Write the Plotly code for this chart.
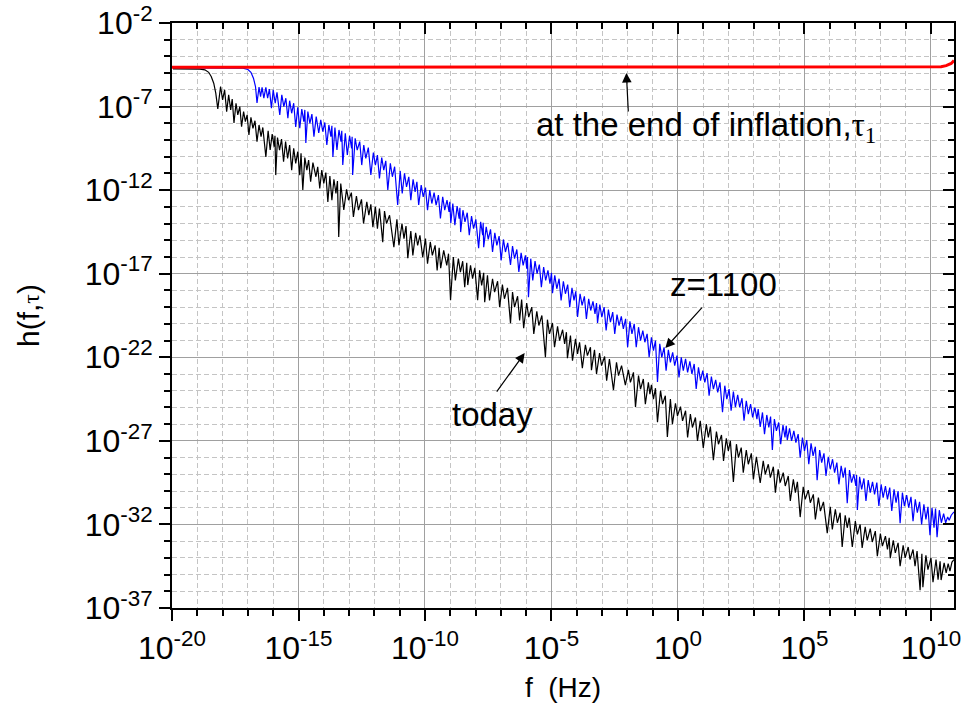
import numpy as np
import plotly.graph_objects as go

# ---------------------------------------------------------------
# Gravitational-wave spectrum h(f, tau) at three epochs.
# Each series is a list of (log10 f [Hz], log10 h) points.
# ---------------------------------------------------------------

# at the end of inflation (flat spectrum)
inflation_pts = [(-20.0, -4.65), (10.0, -4.65), (10.4, -4.62), (10.6, -4.55),
                 (10.8, -4.42), (10.91, -4.25)]

# z = 1100
z1100_pts = [
    (-19.96, -4.69), (-17.6, -4.69), (-17.2, -4.7), (-17.0, -4.78), (-16.88, -4.95),
    (-16.78, -5.3), (-16.7, -5.8), (-16.64, -6.78),
    (-16.56, -5.83), (-16.5, -6.4), (-16.44, -5.85), (-16.37, -6.49), (-16.29, -5.85),
    (-16.22, -6.5), (-16.15, -5.95), (-16.07, -7.1), (-16.0, -6.0), (-15.92, -6.8),
    (-15.85, -6.15), (-15.74, -7.5), (-15.66, -6.3), (-15.58, -7.0), (-15.5, -6.5),
    (-15.42, -7.7), (-15.35, -6.65), (-15.27, -7.4), (-15.19, -6.8), (-15.11, -8.22),
    (-15.03, -7.05), (-14.95, -8.3), (-14.87, -7.15), (-14.79, -7.9), (-14.75, -7.2),
    (-14.71, -9.18), (-14.63, -7.3), (-14.55, -8.0), (-14.47, -7.45), (-14.39, -8.8),
    (-14.3, -7.6), (-14.2, -8.58), (-14.12, -7.8), (-14.04, -8.5), (-13.96, -7.95),
    (-13.88, -9.3), (-13.8, -8.1), (-13.72, -8.8), (-13.68, -8.15), (-13.64, -10.01),
    (-13.56, -8.25), (-13.48, -9.6), (-13.4, -8.4), (-13.32, -9.1), (-13.29, -8.45),
    (-13.25, -10.49), (-13.15, -8.6), (-13.07, -9.9), (-12.98, -8.75), (-12.9, -9.5),
    (-12.88, -8.8), (-12.86, -11.09), (-12.76, -8.9), (-12.68, -9.6), (-12.58, -9.1),
    (-12.5, -10.5), (-12.42, -9.3), (-12.34, -10.1), (-12.24, -9.45), (-12.14, -11.09),
    (-12.04, -9.75), (-11.96, -10.5), (-11.88, -9.9), (-11.8, -11.3), (-11.71, -10.05),
    (-11.63, -10.8), (-11.55, -10.25), (-11.47, -11.99), (-11.37, -10.4), (-11.29, -11.2),
    (-11.2, -10.6), (-11.08, -12.89), (-10.98, -10.85), (-10.9, -12.2), (-10.81, -11.0),
    (-10.73, -11.8), (-10.64, -11.2), (-10.56, -12.6), (-10.47, -11.35), (-10.39, -12.1),
    (-10.32, -11.5), (-10.25, -12.89), (-10.15, -11.7), (-10.07, -12.4), (-9.98, -11.85),
    (-9.9, -13.2), (-9.81, -12.0), (-9.73, -12.8), (-9.64, -12.15), (-9.56, -12.9),
    (-9.47, -12.3), (-9.39, -13.7), (-9.3, -12.4), (-9.22, -13.2), (-9.13, -12.6),
    (-9.05, -13.3), (-9.02, -12.7), (-8.98, -13.97), (-8.9, -12.8), (-8.82, -14.1),
    (-8.73, -12.95), (-8.65, -13.7), (-8.62, -13.05), (-8.59, -14.51), (-8.5, -13.2),
    (-8.42, -13.9), (-8.33, -13.35), (-8.25, -14.7), (-8.16, -13.55), (-8.08, -14.3),
    (-7.99, -13.75), (-7.88, -15.47), (-7.8, -13.9), (-7.72, -14.7), (-7.7, -13.95),
    (-7.68, -15.41), (-7.58, -14.2), (-7.5, -14.95), (-7.41, -14.35), (-7.33, -15.7),
    (-7.24, -14.55), (-7.16, -15.3), (-7.07, -14.75), (-6.99, -16.2), (-6.9, -14.95),
    (-6.82, -15.7), (-6.73, -15.15), (-6.62, -16.48), (-6.54, -15.35), (-6.46, -16.1),
    (-6.37, -15.55), (-6.29, -16.9), (-6.2, -15.75), (-6.12, -16.5), (-6.03, -15.9),
    (-5.98, -16.7), (-5.95, -16.0), (-5.91, -18.4), (-5.82, -16.1), (-5.74, -17.4),
    (-5.65, -16.25), (-5.57, -17.0), (-5.48, -16.45), (-5.4, -17.8), (-5.31, -16.6),
    (-5.23, -17.4), (-5.14, -16.8), (-5.06, -17.6), (-5.0, -16.95), (-4.96, -18.16),
    (-4.87, -17.1), (-4.79, -17.9), (-4.7, -17.3), (-4.62, -18.6), (-4.53, -17.45),
    (-4.45, -18.2), (-4.36, -17.65), (-4.28, -19.0), (-4.19, -17.85), (-4.11, -18.6),
    (-4.04, -18.05), (-3.97, -19.59), (-3.87, -18.2), (-3.79, -18.9), (-3.7, -18.35),
    (-3.62, -19.7), (-3.53, -18.5), (-3.45, -19.2), (-3.36, -18.65), (-3.28, -19.4),
    (-3.22, -18.75), (-3.18, -19.95), (-3.09, -18.85), (-3.01, -19.6), (-2.92, -19.0),
    (-2.84, -20.4), (-2.75, -19.15), (-2.67, -19.9), (-2.58, -19.3), (-2.5, -20.6),
    (-2.41, -19.45), (-2.33, -20.1), (-2.24, -19.55), (-2.16, -20.3), (-2.07, -19.7),
    (-1.99, -21.39), (-1.9, -19.85), (-1.82, -20.6), (-1.73, -20.0), (-1.65, -21.4),
    (-1.56, -20.2), (-1.48, -21.0), (-1.39, -20.4), (-1.31, -21.1), (-1.22, -20.6),
    (-1.14, -22.0), (-1.05, -20.8), (-0.97, -21.6), (-0.89, -21.0), (-0.81, -23.48),
    (-0.72, -21.2), (-0.64, -22.0), (-0.55, -21.4), (-0.47, -22.8), (-0.38, -21.55),
    (-0.3, -22.3), (-0.21, -21.7), (-0.13, -22.5), (-0.04, -21.9), (0.04, -23.2),
    (0.13, -22.0), (0.21, -22.8), (0.3, -22.1), (0.38, -22.9), (0.47, -22.25),
    (0.55, -23.0), (0.64, -22.4), (0.72, -23.9), (0.81, -22.6), (0.89, -23.4),
    (0.98, -22.8), (1.06, -23.5), (1.15, -22.95), (1.23, -24.3), (1.32, -23.15),
    (1.4, -23.9), (1.49, -23.35), (1.57, -24.1), (1.66, -23.5), (1.76, -25.28),
    (1.85, -23.7), (1.93, -24.5), (2.02, -23.9), (2.1, -25.2), (2.19, -24.05),
    (2.27, -24.98), (2.36, -24.25), (2.44, -25.0), (2.53, -24.45), (2.61, -25.8),
    (2.7, -24.6), (2.78, -25.4), (2.87, -24.8), (2.95, -25.6), (3.04, -25.0),
    (3.12, -25.7), (3.17, -25.1), (3.25, -26.17), (3.34, -25.3), (3.42, -26.6),
    (3.51, -25.45), (3.59, -26.2), (3.66, -25.55), (3.73, -27.55), (3.81, -25.7),
    (3.89, -26.4), (3.98, -25.9), (4.06, -27.2), (4.15, -26.05), (4.23, -26.8),
    (4.28, -26.1), (4.32, -26.95), (4.41, -26.25), (4.49, -27.0), (4.58, -26.4),
    (4.66, -27.1), (4.75, -26.6), (4.83, -28.0), (4.92, -26.8), (5.0, -27.6),
    (5.09, -26.95), (5.17, -28.4), (5.26, -27.15), (5.34, -27.9), (5.43, -27.35),
    (5.5, -29.35), (5.6, -27.55), (5.68, -28.3), (5.77, -27.75), (5.85, -29.1),
    (5.94, -27.95), (6.02, -28.7), (6.11, -28.1), (6.19, -28.9), (6.28, -28.3),
    (6.36, -29.6), (6.45, -28.5), (6.53, -29.2), (6.61, -28.6), (6.69, -30.73),
    (6.78, -28.75), (6.86, -29.5), (6.95, -29.0), (7.03, -29.7), (7.06, -29.05),
    (7.09, -31.14), (7.18, -29.15), (7.26, -29.9), (7.35, -29.25), (7.43, -30.6),
    (7.52, -29.35), (7.6, -30.1), (7.69, -29.45), (7.77, -30.2), (7.86, -29.5),
    (7.94, -30.9), (8.03, -29.6), (8.11, -30.4), (8.2, -29.7), (8.28, -30.5),
    (8.37, -29.8), (8.45, -31.2), (8.54, -29.9), (8.62, -30.7), (8.7, -30.0),
    (8.78, -31.92), (8.87, -30.1), (8.95, -30.9), (9.04, -30.25), (9.12, -31.0),
    (9.21, -30.35), (9.29, -31.8), (9.38, -30.5), (9.46, -31.3), (9.55, -30.65),
    (9.63, -32.0), (9.72, -30.8), (9.8, -31.7), (9.88, -30.95), (9.96, -32.64),
    (10.04, -31.0), (10.12, -32.2), (10.18, -31.05), (10.24, -32.76), (10.33, -31.15),
    (10.41, -31.9), (10.5, -31.35), (10.58, -31.9), (10.66, -31.55), (10.72, -31.75),
    (10.8, -31.45), (10.91, -31.25),
]

# today
today_pts = [
    (-19.96, -4.75), (-19.3, -4.75), (-18.9, -4.76), (-18.7, -4.8), (-18.55, -4.95),
    (-18.45, -5.2), (-18.35, -5.6), (-18.27, -6.2), (-18.19, -7.14),
    (-18.08, -5.8), (-18.0, -6.6), (-17.92, -6.0), (-17.84, -7.3), (-17.76, -6.3),
    (-17.68, -7.2), (-17.62, -6.55), (-17.55, -7.98), (-17.47, -6.8), (-17.4, -7.5),
    (-17.32, -7.0), (-17.25, -8.2), (-17.17, -7.3), (-17.1, -7.9), (-17.03, -7.5),
    (-16.96, -8.7), (-16.88, -7.65), (-16.8, -8.3), (-16.72, -7.85), (-16.64, -9.1),
    (-16.56, -8.1), (-16.48, -8.8), (-16.41, -8.25), (-16.29, -10.02), (-16.2, -8.45),
    (-16.12, -9.6), (-16.04, -8.65), (-15.96, -9.4), (-15.93, -8.75), (-15.9, -11.1),
    (-15.83, -8.85), (-15.75, -9.6), (-15.67, -8.95), (-15.59, -10.3), (-15.51, -9.1),
    (-15.43, -10.1), (-15.35, -9.3), (-15.27, -10.8), (-15.19, -9.5), (-15.11, -10.4),
    (-15.03, -9.7), (-14.95, -11.1), (-14.9, -9.8), (-14.83, -11.99), (-14.75, -10.05),
    (-14.67, -10.8), (-14.6, -10.2), (-14.52, -11.5), (-14.43, -10.35), (-14.31, -11.2),
    (-14.24, -10.6), (-14.16, -11.9), (-14.08, -10.8), (-14.0, -11.6), (-13.92, -10.95),
    (-13.84, -12.71), (-13.76, -11.15), (-13.68, -12.6), (-13.6, -11.35), (-13.52, -12.2),
    (-13.46, -11.45), (-13.41, -14.8), (-13.33, -11.6), (-13.21, -13.19), (-13.1, -11.95),
    (-13.02, -12.6), (-12.91, -12.15), (-12.83, -13.6), (-12.71, -12.35), (-12.63, -13.2),
    (-12.51, -12.55), (-12.43, -14.0), (-12.3, -12.7), (-12.22, -13.5), (-12.14, -12.85),
    (-12.06, -14.21), (-11.96, -13.0), (-11.88, -14.3), (-11.8, -13.1), (-11.67, -15.11),
    (-11.6, -13.25), (-11.52, -14.0), (-11.4, -13.5), (-11.23, -15.41), (-11.11, -13.75),
    (-11.03, -15.3), (-10.91, -14.0), (-10.83, -14.9), (-10.75, -14.15), (-10.68, -16.07),
    (-10.56, -14.45), (-10.48, -15.9), (-10.37, -14.55), (-10.29, -15.3), (-10.2, -14.7),
    (-10.09, -16.01), (-9.98, -14.9), (-9.9, -16.4), (-9.79, -15.1), (-9.71, -15.9),
    (-9.6, -15.3), (-9.52, -16.8), (-9.44, -15.45), (-9.38, -16.67), (-9.26, -15.6),
    (-9.14, -16.5), (-9.07, -15.8), (-8.99, -18.58), (-8.88, -16.0), (-8.8, -17.4),
    (-8.68, -16.1), (-8.6, -16.9), (-8.51, -16.25), (-8.43, -17.8), (-8.35, -16.35),
    (-8.31, -17.68), (-8.2, -16.5), (-8.12, -17.3), (-8.03, -16.65), (-7.92, -18.58),
    (-7.84, -16.8), (-7.76, -17.7), (-7.68, -16.95), (-7.64, -18.7), (-7.53, -17.1),
    (-7.45, -18.6), (-7.33, -17.3), (-7.25, -18.1), (-7.13, -17.45), (-7.05, -19.0),
    (-6.94, -17.65), (-6.86, -18.5), (-6.74, -17.85), (-6.62, -19.96), (-6.54, -18.1),
    (-6.46, -19.0), (-6.34, -18.35), (-6.26, -19.8), (-6.18, -18.55), (-6.1, -20.26),
    (-5.98, -18.75), (-5.9, -19.6), (-5.78, -19.0), (-5.7, -20.6), (-5.58, -19.25),
    (-5.5, -20.1), (-5.38, -19.5), (-5.24, -21.99), (-5.16, -19.75), (-5.08, -20.6),
    (-4.96, -19.95), (-4.88, -21.4), (-4.76, -20.15), (-4.68, -21.0), (-4.56, -20.35),
    (-4.48, -21.2), (-4.41, -20.5), (-4.37, -22.05), (-4.25, -20.7), (-4.17, -22.2),
    (-4.05, -20.9), (-3.97, -21.8), (-3.89, -21.1), (-3.78, -22.65), (-3.66, -21.25),
    (-3.58, -21.9), (-3.46, -21.4), (-3.42, -22.77), (-3.3, -21.55), (-3.22, -23.0),
    (-3.1, -21.75), (-3.02, -22.5), (-2.9, -21.95), (-2.82, -23.4), (-2.71, -22.1),
    (-2.55, -23.96), (-2.43, -22.3), (-2.35, -23.1), (-2.23, -22.5), (-2.08, -23.66),
    (-1.96, -22.75), (-1.88, -23.5), (-1.76, -22.9), (-1.68, -24.98), (-1.56, -23.1),
    (-1.48, -23.9), (-1.37, -23.3), (-1.29, -24.8), (-1.17, -23.5), (-1.11, -24.2),
    (-1.05, -23.65), (-0.97, -24.5), (-0.89, -23.85), (-0.81, -25.88), (-0.69, -24.0),
    (-0.61, -24.8), (-0.5, -24.3), (-0.42, -26.77), (-0.3, -24.5), (-0.22, -26.0),
    (-0.1, -24.75), (-0.02, -25.5), (0.1, -24.95), (0.18, -25.8), (0.3, -25.2),
    (0.38, -26.8), (0.49, -25.4), (0.57, -26.2), (0.69, -25.6), (0.77, -27.0),
    (0.88, -25.8), (1.0, -27.43), (1.12, -26.0), (1.2, -26.8), (1.28, -26.15),
    (1.4, -28.15), (1.52, -26.45), (1.6, -27.2), (1.72, -26.65), (1.8, -28.2),
    (1.91, -26.85), (1.99, -27.6), (2.07, -27.0), (2.19, -29.46), (2.31, -27.2),
    (2.39, -28.0), (2.5, -27.4), (2.58, -28.9), (2.7, -27.55), (2.78, -28.4),
    (2.9, -27.75), (2.98, -29.3), (3.1, -27.95), (3.25, -29.52), (3.37, -28.2),
    (3.45, -29.0), (3.57, -28.4), (3.65, -29.2), (3.77, -28.55), (3.85, -30.1),
    (3.96, -28.7), (4.04, -29.5), (4.16, -28.9), (4.24, -29.7), (4.36, -29.1),
    (4.44, -30.6), (4.56, -29.3), (4.64, -30.1), (4.72, -29.45), (4.83, -31.56),
    (4.95, -29.75), (5.03, -30.5), (5.15, -29.95), (5.23, -30.7), (5.35, -30.2),
    (5.43, -31.7), (5.55, -30.4), (5.63, -31.2), (5.75, -30.65), (5.9, -32.52),
    (6.02, -30.95), (6.1, -32.3), (6.22, -31.1), (6.3, -31.9), (6.41, -31.3),
    (6.49, -33.35), (6.61, -31.45), (6.69, -32.2), (6.77, -31.6), (6.89, -33.35),
    (7.01, -31.8), (7.09, -32.6), (7.2, -32.0), (7.28, -33.4), (7.4, -32.15),
    (7.48, -32.95), (7.6, -32.25), (7.68, -33.05), (7.8, -32.4), (7.88, -33.9),
    (8.0, -32.55), (8.08, -33.3), (8.2, -32.7), (8.28, -33.5), (8.35, -32.8),
    (8.39, -34.02), (8.51, -32.95), (8.59, -33.7), (8.7, -33.1), (8.78, -34.5),
    (8.9, -33.25), (8.98, -34.0), (9.1, -33.35), (9.17, -34.1), (9.29, -33.5),
    (9.37, -34.5), (9.45, -33.6), (9.57, -35.93), (9.64, -33.75), (9.68, -35.75),
    (9.8, -33.85), (9.88, -34.7), (10.0, -34.0), (10.08, -35.45), (10.2, -34.1),
    (10.28, -35.3), (10.36, -34.2), (10.4, -35.33), (10.52, -34.3), (10.6, -34.9),
    (10.68, -34.35), (10.75, -34.8), (10.83, -34.25), (10.91, -34.1),
]

# axis ticks (log10 exponents) and their labels
x_major_exp = [-20, -15, -10, -5, 0, 5, 10]
x_labels = ["10<sup>-20</sup>", "10<sup>-15</sup>", "10<sup>-10</sup>", "10<sup>-5</sup>",
            "10<sup>0</sup>", "10<sup>5</sup>", "10<sup>10</sup>"]
y_major_exp = [-37, -32, -27, -22, -17, -12, -7, -2]
y_labels = ["10<sup>-37</sup>", "10<sup>-32</sup>", "10<sup>-27</sup>", "10<sup>-22</sup>",
            "10<sup>-17</sup>", "10<sup>-12</sup>", "10<sup>-7</sup>", "10<sup>-2</sup>"]
x_range_exp = [-20, 10.91]
y_range_exp = [-37, -2]

FONT = "Liberation Sans, Arial, sans-serif"
SERIF = "Liberation Serif, Times New Roman, serif"


def to_xy(pts):
    lf, lh = zip(*pts)
    return 10.0 ** np.array(lf), 10.0 ** np.array(lh)


fig = go.Figure()

for pts, color, width in [(z1100_pts, "#0000ff", 1.2),
                          (today_pts, "#000000", 1.2),
                          (inflation_pts, "#ff0000", 3.0)]:
    x, y = to_xy(pts)
    fig.add_trace(go.Scatter(x=x, y=y, mode="lines",
                             line=dict(color=color, width=width),
                             showlegend=False, hoverinfo="skip"))

# empty trace that carries the top/right tick axes
fig.add_trace(go.Scatter(x=[], y=[], xaxis="x2", yaxis="y2",
                         showlegend=False, hoverinfo="skip"))

x_major = [10.0 ** e for e in x_major_exp]
y_major = [10.0 ** e for e in y_major_exp]
x_minor = [10.0 ** e for e in range(-20, 11)]
y_minor = [10.0 ** e for e in range(-37, -1)]

common = dict(type="log", tickmode="array", ticks="outside", ticklen=11,
              tickwidth=2, tickcolor="black", showline=True, linewidth=2,
              linecolor="black", mirror=True, showgrid=True,
              gridcolor="#a0a0a0", gridwidth=1.2, zeroline=False,
              automargin=False,
              tickfont=dict(family=FONT, size=32, color="black"))

minor_style = dict(tickmode="array", ticks="outside", ticklen=6, tickwidth=1.5,
                   tickcolor="black", showgrid=True, gridcolor="#c4c4c4",
                   griddash="5px,3px", gridwidth=1)

fig.update_layout(
    width=965, height=719,
    margin=dict(l=172, r=11, t=23, b=111),
    paper_bgcolor="white", plot_bgcolor="white",
    showlegend=False,
    font=dict(family=FONT, size=30, color="black"),
    xaxis=dict(**common, range=x_range_exp, tickvals=x_major, ticktext=x_labels,
               minor=dict(**minor_style, tickvals=x_minor),
               title=dict(text="f\u00a0\u00a0(Hz)", font=dict(family=FONT, size=28),
                          standoff=12)),
    yaxis=dict(**common, range=y_range_exp, tickvals=y_major, ticktext=y_labels,
               minor=dict(**minor_style, tickvals=y_minor),
               title=dict(text="h(f,<span style='font-family:" + SERIF +
                               ";font-size:24px'>\u03c4</span>)",
                          font=dict(family=FONT, size=30), standoff=36)),
    xaxis2=dict(type="log", overlaying="x", side="top", range=x_range_exp,
                tickmode="array", tickvals=x_major, showticklabels=False,
                ticks="inside", ticklen=11, tickwidth=2, tickcolor="black",
                showgrid=False, showline=False, zeroline=False, automargin=False,
                minor=dict(tickmode="array", tickvals=x_minor, ticks="inside",
                           ticklen=6, tickwidth=1.5, tickcolor="black", showgrid=False)),
    yaxis2=dict(type="log", overlaying="y", side="right", range=y_range_exp,
                tickmode="array", tickvals=y_major, showticklabels=False,
                ticks="inside", ticklen=11, tickwidth=2, tickcolor="black",
                showgrid=False, showline=False, zeroline=False, automargin=False,
                minor=dict(tickmode="array", tickvals=y_minor, ticks="inside",
                           ticklen=6, tickwidth=1.5, tickcolor="black", showgrid=False)),
)

# curve labels
labels = [
    ("at the end of inflation,<span style='font-family:" + SERIF + "'>\u03c4<sub>1</sub></span>",
     -5.71, -8.22),
    ("z=1100", -0.38, -17.62),
    ("today", -9.02, -25.40),
]
for text, lx, ly in labels:
    fig.add_annotation(x=lx, y=ly, xref="x", yref="y", text=text, showarrow=False,
                       xanchor="left", yanchor="middle",
                       font=dict(family=FONT, size=33, color="black"))

# arrows pointing from each label to its curve
arrows = [(-2.04, -4.99, 2, 40), (-0.50, -21.45, 38, -42), (-6.06, -21.75, -29, 40)]
for hx, hy, dx, dy in arrows:
    fig.add_annotation(x=hx, y=hy, xref="x", yref="y", text="", showarrow=True,
                       ax=dx, ay=dy, arrowhead=2, arrowsize=1.6, arrowwidth=1.2,
                       arrowcolor="black")

fig.write_html("out.html")
